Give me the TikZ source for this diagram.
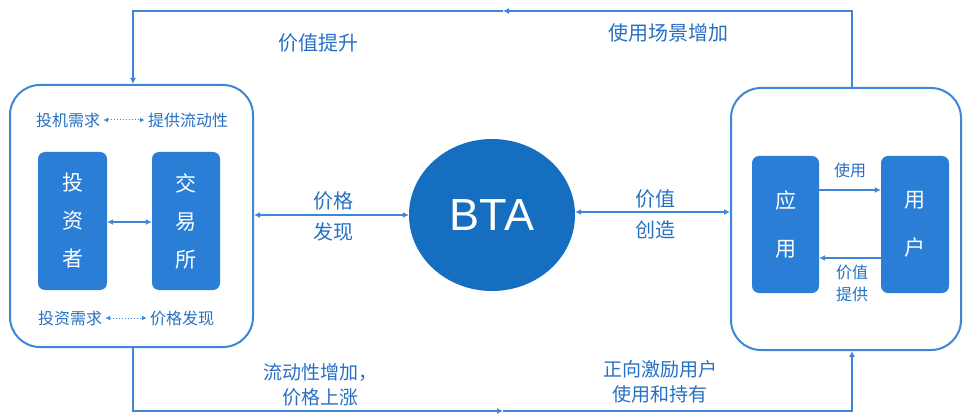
\documentclass[tikz,border=0pt]{standalone}
\usepackage{fontspec}
\setmainfont{Noto Sans CJK SC}
\newfontfamily\latinsans{Liberation Sans}
\usetikzlibrary{arrows.meta,shapes.geometric}
\definecolor{lineblue}{RGB}{62,134,216}
\definecolor{boxblue}{RGB}{42,126,214}
\definecolor{circblue}{RGB}{22,110,192}
\definecolor{txtblue}{RGB}{38,112,196}
\tikzset{
  outerbox/.style={draw=lineblue, line width=2pt, rounded corners=30pt, fill=white},
  innerbox/.style={fill=boxblue, rounded corners=7pt, text=white, align=center,
    font=\fontsize{21}{38}\selectfont, inner sep=0pt},
  lbl/.style={text=txtblue, align=center, inner sep=0pt},
  big/.style={lbl, font=\fontsize{20}{31}\selectfont},
  small/.style={lbl, font=\fontsize{16}{20}\selectfont},
  flow/.style={draw=lineblue, line width=1.6pt},
  tip/.style={-{Latex[length=6pt,width=6pt]}},
  dtip/.style={{Latex[length=6pt,width=6pt]}-{Latex[length=6pt,width=6pt]}},
  dotarrow/.style={draw=lineblue, line width=1pt, dotted, shorten <=3pt, shorten >=3pt, {Latex[length=5pt,width=5pt]}-{Latex[length=5pt,width=5pt]}}
}
\begin{document}
\begin{tikzpicture}[x=1pt,y=-1pt]
\useasboundingbox (0,0) rectangle (963,414);

% outer boxes
\node[outerbox, minimum width=243pt, minimum height=262pt] (L) at (131.5,216) {};
\node[outerbox, minimum width=230pt, minimum height=262pt] (R) at (846,219) {};

% inner boxes left
\node[innerbox, minimum width=69pt, minimum height=138pt] (inv) at (72.5,221) {投\\资\\者};
\node[innerbox, minimum width=68pt, minimum height=138pt] (exc) at (186,221) {交\\易\\所};
\draw[flow, dtip] (inv.east |- 0,222) -- (exc.west |- 0,222);

% small labels left
\node[small] (spec) at (68,120) {投机需求};
\node[small] (liq) at (188,120) {提供流动性};
\draw[dotarrow] (spec.east) -- (liq.west);
\node[small] (invd) at (70,318) {投资需求};
\node[small] (pric) at (182,318) {价格发现};
\draw[dotarrow] (invd.east) -- (pric.west);

% inner boxes right
\node[innerbox, minimum width=67pt, minimum height=137pt] (app) at (785.5,224.5) {应\\[10pt]用};
\node[innerbox, minimum width=68pt, minimum height=137pt] (usr) at (915,224.5) {用\\[10pt]户};
\draw[flow, tip] (app.east |- 0,190) -- (usr.west |- 0,190);
\draw[flow, tip] (usr.west |- 0,258) -- (app.east |- 0,258);
\node[small] (use) at (850,170) {使用};
\node[small, font=\fontsize{16}{22}\selectfont] (vp) at (852,283) {价值\\提供};

% circle
\node[ellipse, fill=circblue, minimum width=166pt, minimum height=152pt, inner sep=0pt,
  text=white, font=\latinsans\fontsize{45}{50}\selectfont] (bta) at (492,215) {BTA};

\draw[flow, dtip] (L.east |- 0,215) -- (bta.west |- 0,215);
\draw[flow, dtip] (bta.east |- 0,212) -- (R.west |- 0,212);
\node[big] (pd) at (333,216) {价格\\发现};
\node[big] (vc) at (655,214) {价值\\创造};

% top loop
\coordinate (tr) at (852,11);
\coordinate (tl) at (133,11);
\coordinate (tm) at (503,11);
\draw[flow, tip] (R.north -| tr) -- (tr) -- (tm);
\draw[flow, tip] (tm) -- (tl) -- (L.north -| tl);
\node[big] (vu) at (318,43) {价值提升};
\node[big] (sc) at (668,33) {使用场景增加};

% bottom loop
\coordinate (bl) at (133,411);
\coordinate (br) at (852,411);
\coordinate (bm) at (503,411);
\draw[flow, tip] (L.south -| bl) -- (bl) -- (bm);
\draw[flow, tip] (bm) -- (br) -- (R.south -| br);
\node[big, font=\fontsize{19}{25}\selectfont] (lq) at (320,385) {流动性增加，\\价格上涨};
\node[big, font=\fontsize{19}{25}\selectfont] (inc) at (660,382) {正向激励用户\\使用和持有};
\end{tikzpicture}
\end{document}
